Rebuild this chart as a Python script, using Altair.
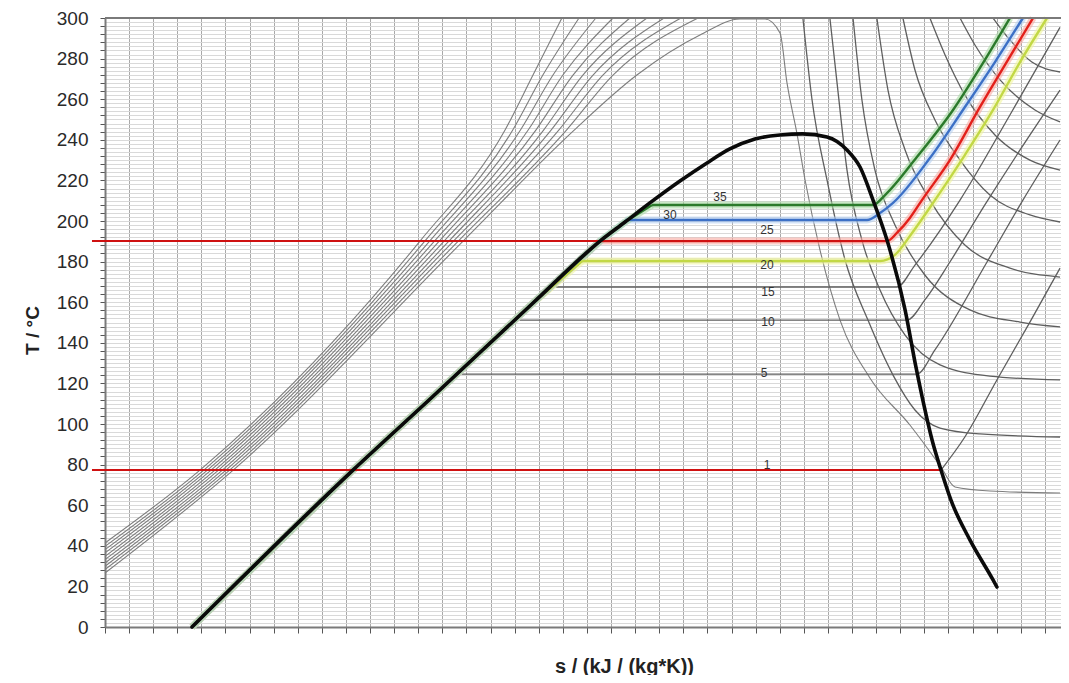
import altair as alt
import pandas as pd

# ---------------- values (s in kJ/(kg*K), T in °C) ----------------
# saturation dome (thick black)
DOME_S = [0.361, 1.029, 1.349, 1.776, 2.054, 2.158, 2.261, 2.386, 2.498, 2.593, 2.697, 2.801, 2.896, 2.996,
          3.079, 3.133, 3.187, 3.245, 3.320, 3.365, 3.398, 3.432, 3.469, 3.510, 3.589, 3.685, 3.701]
DOME_T = [0, 77.3, 112.3, 159.6, 190.1, 199.5, 208.9, 219.7, 228.6, 235.5, 240.4, 242.4, 242.9, 241.4,
          235.0, 226.6, 210.3, 190.6, 156.2, 128.1, 109.4, 92.1, 77.3, 62.6, 42.9, 23.2, 19.7]

# liquid line shared by the coloured isobars below their saturation temperature
LIQ_S = [0.361, 1.029, 1.349, 1.776, 2.054, 2.158]
LIQ_T = [0, 77.3, 112.3, 159.6, 190.1, 199.5]

# coloured isobars (bar), from the saturated-liquid point onwards
P35_S = [2.27, 3.187, 3.237, 3.369, 3.519, 3.643, 3.755]
P35_T = [207.9, 207.9, 212.8, 231.5, 254.7, 277.8, 300]
P30_S = [2.16, 3.162, 3.216, 3.270, 3.423, 3.560, 3.693, 3.809]
P30_T = [200.5, 200.5, 203.9, 208.9, 231.0, 254.7, 278.3, 300]
P25_S = [2.054, 3.245, 3.286, 3.340, 3.390, 3.506, 3.631, 3.734, 3.851]
P25_T = [190.1, 190.1, 194.1, 201.5, 210.3, 230.0, 256.2, 276.8, 300]
P20_S = [1.98, 3.216, 3.278, 3.349, 3.444, 3.568, 3.685, 3.797, 3.909]
P20_T = [180.3, 180.3, 183.3, 194.1, 210.3, 232.5, 254.7, 278.3, 300]

# grey isobars (bar)
P15_S = [1.87, 3.286, 3.361, 3.548, 3.755, 3.963]
P15_T = [167.5, 167.5, 178.3, 210.3, 252.2, 295.4]
P10_S = [1.72, 3.328, 3.402, 3.506, 3.651, 3.797, 3.963]
P10_T = [151.2, 151.2, 161.1, 179.8, 207.9, 235.0, 264.5]
P5_S = [1.48, 3.369, 3.444, 3.660, 3.809, 3.963]
P5_T = [124.6, 124.6, 136.5, 179.8, 210.3, 239.9]
P1_S = [3.469, 3.568, 3.701, 3.838, 3.963]
P1_T = [77.3, 93.6, 121.7, 150.2, 176.8]

# bundle of grey lines on the left (10 lines), entropy read at fixed temperatures
BUNDLE_T_AT_S0 = [41.4, 39.7, 38.1, 36.5, 34.8, 33.2, 31.5, 29.9, 28.3, 26.6]
BUNDLE_S_AT_77 = [0.394, 0.410, 0.425, 0.440, 0.456, 0.471, 0.487, 0.502, 0.517, 0.532]
BUNDLE_S_AT_190 = [1.307, 1.327, 1.347, 1.367, 1.387, 1.407, 1.427, 1.446, 1.466, 1.486]
BUNDLE_S_AT_245 = [1.660, 1.692, 1.724, 1.756, 1.788, 1.820, 1.851, 1.883, 1.915, 1.947]
BUNDLE_S_AT_272 = [1.776, 1.817, 1.859, 1.900, 1.942, 1.983, 2.025, 2.066, 2.108, 2.207]
BUNDLE_S_AT_300 = [1.896, 1.967, 2.037, 2.108, 2.178, 2.249, 2.320, 2.390, 2.461]

# continuation of the last bundle line (bends over at 300 °C and falls steeply)
D0_S = [2.469, 2.635, 2.739, 2.801, 2.830, 2.871, 2.905, 2.967, 3.050, 3.174, 3.340, 3.469, 3.527, 3.672, 3.963]
D0_T = [291.6, 299.5, 299.5, 292.6, 268.0, 243.3, 220.2, 185.7, 151.2, 122.7, 99.5, 78.8, 69.0, 67.0, 66.0]

# falling / flattening grey lines on the right
D1_S = [2.896, 2.934, 2.996, 3.071, 3.166, 3.270, 3.361, 3.465, 3.631, 3.963]
D1_T = [300, 259.6, 220.2, 180.8, 151.2, 124.1, 106.9, 98.0, 95.1, 93.6]
D2_S = [3.008, 3.041, 3.079, 3.141, 3.216, 3.320, 3.465, 3.672, 3.963]
D2_T = [300, 264.5, 225.1, 190.6, 166.0, 143.8, 129.1, 123.6, 121.7]
D3_S = [3.104, 3.141, 3.195, 3.278, 3.402, 3.589, 3.797, 3.963]
D3_T = [300, 259.6, 225.1, 198.0, 173.4, 156.2, 150.2, 147.8]
D4_S = [3.203, 3.249, 3.320, 3.423, 3.568, 3.755, 3.963]
D4_T = [300, 264.5, 235.0, 210.3, 188.2, 176.8, 172.4]
D5_S = [3.311, 3.361, 3.444, 3.548, 3.672, 3.838, 3.963]
D5_T = [300, 274.4, 249.8, 230.0, 212.8, 203.0, 199.5]
D6_S = [3.423, 3.486, 3.568, 3.693, 3.838, 3.963]
D6_T = [300, 281.8, 262.1, 242.4, 230.0, 225.1]
D7_S = [3.548, 3.610, 3.714, 3.859, 3.963]
D7_T = [300, 286.7, 269.5, 254.7, 248.8]
D8_S = [3.685, 3.755, 3.846, 3.963]
D8_T = [300, 289.2, 278.3, 273.4]

# red guide lines
REF_T = [190.1, 77.3]
REF_S_START = [-0.054, -0.054]
REF_S_END = [3.245, 3.469]

# isobar labels
LABEL_TEXT = ["35", "30", "25", "20", "15", "10", "5", "1"]
LABEL_S = [2.552, 2.344, 2.747, 2.747, 2.751, 2.751, 2.735, 2.747]
LABEL_T = [211.8, 203.0, 195.6, 178.3, 165.0, 150.2, 125.1, 79.8]

X_GRID = [round(k * 0.1, 1) for k in range(40)]
Y_GRID = list(range(0, 301, 2))


# ---------------- tables ----------------
def frame(name, S, T):
    return pd.DataFrame({"s": S, "T": T, "curve": name, "i": list(range(len(S)))})


bundle_parts = []
for k in range(10):
    S = [0.0, BUNDLE_S_AT_77[k], BUNDLE_S_AT_190[k], BUNDLE_S_AT_245[k], BUNDLE_S_AT_272[k]]
    T = [BUNDLE_T_AT_S0[k], 77.3, 190.1, 244.8, 271.9]
    if k < 9:
        S = S + [BUNDLE_S_AT_300[k]]
        T = T + [300]
    else:
        S = S + D0_S
        T = T + D0_T
    bundle_parts.append(frame(f"b{k}", S, T))
bundle_df = pd.concat(bundle_parts, ignore_index=True)

iso_df = pd.concat([
    frame("d1", D1_S, D1_T), frame("d2", D2_S, D2_T), frame("d3", D3_S, D3_T),
    frame("d4", D4_S, D4_T), frame("d5", D5_S, D5_T), frame("d6", D6_S, D6_T),
    frame("d7", D7_S, D7_T), frame("d8", D8_S, D8_T),
    frame("15", P15_S, P15_T), frame("10", P10_S, P10_T),
    frame("5", P5_S, P5_T), frame("1", P1_S, P1_T),
], ignore_index=True)

COLOURED = [("20", P20_S, P20_T, "#f0f59c", "#c2d845"),
            ("25", P25_S, P25_T, "#f8a8a0", "#e3201b"),
            ("30", P30_S, P30_T, "#b6d0f2", "#3c70c6"),
            ("35", P35_S, P35_T, "#a9d9a3", "#2b7a2b")]

dome_df = frame("dome", DOME_S, DOME_T)
ref_df = pd.DataFrame({"s": REF_S_START, "s2": REF_S_END, "T": REF_T})
lab_df = pd.DataFrame({"s": LABEL_S, "T": LABEL_T, "txt": LABEL_TEXT})
top_df = pd.DataFrame({"T": [300]})

FONT = "Liberation Sans"

x_axis = alt.Axis(
    values=X_GRID, labels=False, ticks=True, tickSize=6, tickColor="#555", tickWidth=1,
    grid=True, gridColor="#a9a9a9", gridWidth=1, domainColor="#7a7a7a", domainWidth=2,
    title="s / (kJ / (kg*K))", titleFont=FONT, titleFontSize=20, titleFontWeight="bold",
    titleColor="#222", titleX=519, titleY=39, titleBaseline="middle",
)
y_axis = alt.Axis(
    values=Y_GRID, labelExpr="datum.value % 20 === 0 ? datum.label : ''",
    labelFont=FONT, labelFontSize=19, labelColor="#2a2a2a", labelPadding=12, labelOverlap=False,
    tickSize=5, tickColor="#555",
    tickOpacity={"condition": {"test": "datum.value % 4 === 0", "value": 1}, "value": 0},
    grid=True, gridColor="#d9d9d9", gridWidth=1, domainColor="#7a7a7a", domainWidth=2,
    title="T / °C", titleFont=FONT, titleFontSize=19, titleFontWeight="bold", titleColor="#222",
    titleX=-63, titleY=312,
)
XS = alt.Scale(domain=[0, 3.967], nice=False, zero=False)
YS = alt.Scale(domain=[0, 300], nice=False, zero=False)
X = alt.X("s:Q", scale=XS, axis=x_axis)
Y = alt.Y("T:Q", scale=YS, axis=y_axis)

bundle = alt.Chart(bundle_df).mark_line(color="#7d7d7d", strokeWidth=1.1, interpolate="monotone").encode(
    x=X, y=Y, detail="curve:N", order="i:Q")
iso = alt.Chart(iso_df).mark_line(color="#5e5e5e", strokeWidth=1.3, interpolate="monotone").encode(
    x=X, y=Y, detail="curve:N", order="i:Q")

halos, cores = [], []
for name, S, T, light, dark in COLOURED:
    df = frame(name, S, T)
    liq_S = [s for s, t in zip(LIQ_S, LIQ_T) if t < T[0]] + [S[0]]
    liq_T = [t for t in LIQ_T if t < T[0]] + [T[0]]
    liq = frame(name + "liq", liq_S, liq_T)
    halos.append(alt.Chart(df).mark_line(color=light, strokeWidth=7, opacity=0.6, interpolate="monotone").encode(
        x=X, y=Y, order="i:Q"))
    halos.append(alt.Chart(liq).mark_line(color=light, strokeWidth=7, opacity=0.6).encode(
        x=X, y=Y, order="i:Q"))
    cores.append(alt.Chart(df).mark_line(color=dark, strokeWidth=2.4, interpolate="monotone").encode(
        x=X, y=Y, order="i:Q"))
    cores.append(alt.Chart(liq).mark_line(color=dark, strokeWidth=2.4).encode(
        x=X, y=Y, order="i:Q"))

dome = alt.Chart(dome_df).mark_line(color="#0a0a0a", strokeWidth=3.6, strokeCap="round",
                                    strokeJoin="round", interpolate="monotone").encode(x=X, y=Y, order="i:Q")

ref = alt.Chart(ref_df).mark_rule(color="#cf1111", strokeWidth=2).encode(x=X, x2="s2:Q", y=Y)

top = alt.Chart(top_df).mark_rule(color="#7a7a7a", strokeWidth=2).encode(y=Y)

labels = alt.Chart(lab_df).mark_text(font=FONT, fontSize=12, color="#333", baseline="middle", align="center").encode(
    x=X, y=Y, text="txt:N")

chart = alt.layer(bundle, iso, *halos, *cores, ref, dome, top, labels).properties(
    width=956, height=609,
    autosize=alt.AutoSizeParams(type="none"),
    padding={"left": 97, "top": 10, "right": 0, "bottom": 48},
).configure_view(stroke=None)

chart.save("out.html", embed_options={"renderer": "svg", "actions": False})
